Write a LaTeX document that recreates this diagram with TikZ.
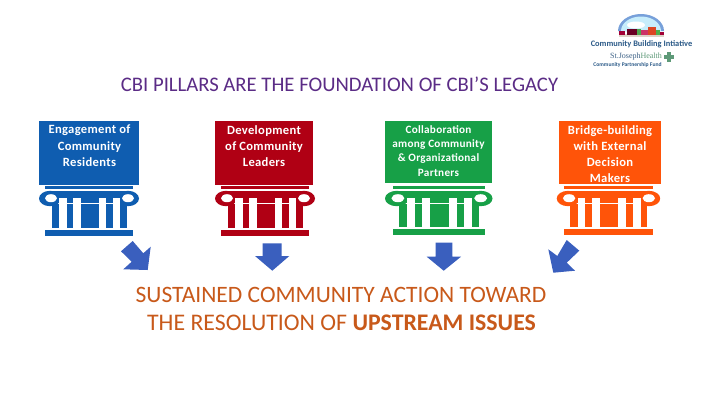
\documentclass[tikz,border=0pt]{standalone}
\usepackage{fontspec}
\setmainfont{Carlito}
\newfontfamily\spaced[LetterSpace=2.5]{Carlito}
\newfontfamily\logoserif{Liberation Serif}
\definecolor{cbiblue}{HTML}{0F5DB0}
\definecolor{cbired}{HTML}{B00014}
\definecolor{cbigreen}{HTML}{17A047}
\definecolor{cbiorange}{HTML}{FF5409}
\definecolor{cbiarrow}{HTML}{3A5FBE}
\definecolor{cbititle}{HTML}{5B2C86}
\definecolor{cbirust}{HTML}{C8591A}
\definecolor{logonavy}{HTML}{2B5A88}
\definecolor{logogreen}{HTML}{5E9A78}
\tikzset{
  pillarbox/.style={fill=#1,draw=none,inner sep=0pt,anchor=north west},
  pillartext/.style={text=white,font=\spaced\bfseries\fontsize{12.6}{16.2}\selectfont,align=center,anchor=north,inner sep=0pt},
  pillartextsmall/.style={text=white,font=\spaced\bfseries\fontsize{11.2}{14.4}\selectfont,align=center,anchor=north,inner sep=0pt},
  blockarrow/.style={fill=cbiarrow,draw=none},
  headline/.style={text=cbititle,font=\fontsize{20.7}{24}\selectfont,inner sep=0pt},
  closing/.style={text=cbirust,font=\fontsize{23.5}{28}\selectfont,inner sep=0pt},
  closingb/.style={text=cbirust,font=\fontsize{23.8}{28}\selectfont,inner sep=0pt},
}
% #1 colour, #2 left x, #3 width (capital), #4 y of base top, #5 inset of bars
\newcommand{\pillarbody}[5]{%
  \begin{scope}[shift={(#2,0)},xscale=#3/100]
    \fill[#1] (#5,186) rectangle (100-#5,189.3);
    \fill[#1] (#5,#4) rectangle (100-#5,#4+6);
    % capital with scrolls
    \fill[#1] (11,198.5) ellipse[x radius=11,y radius=7.7];
    \fill[#1] (89,198.5) ellipse[x radius=11,y radius=7.7];
    \fill[#1] (11,190.8) rectangle (89,203);
    \fill[#1] (13.3,204) rectangle (87.7,#4-2);
    \fill[white] (12,198.2) ellipse[x radius=6,y radius=4];
    \fill[white] (89,198.2) ellipse[x radius=6,y radius=4];
    \foreach \gx in {20.3,34.3,59.7,73.7}
      \fill[white] (\gx,198) rectangle (\gx+7.4,#4-2);
  \end{scope}%
}
\begin{document}
\begin{tikzpicture}[x=1pt,y=-1pt]
\useasboundingbox (0,0) rectangle (720,405);
\fill[white] (0,0) rectangle (720,405);

% logo
\fill[cyan!50!blue!55] (618,31) arc[start angle=180,end angle=360,x radius=23,y radius=17] -- cycle;
\fill[cyan!22] (621,31) arc[start angle=180,end angle=360,x radius=20,y radius=14.5] -- cycle;
\fill[white] (636,25) ellipse[x radius=9,y radius=3.5];
\fill[orange!25!gray!35] (619,34) rectangle (664,36.5);
\fill[purple!85!black] (619,31) rectangle (625,35);
\fill[purple!55!black] (627,28.5) rectangle (637,35);
\fill[green!50!black!70] (637,29) rectangle (641,35);
\fill[purple!80] (641,30) rectangle (648,35);
\fill[red!45!brown] (648,26.5) rectangle (656,35);
\fill[green!55!black!70] (656,29.5) rectangle (660,35);
\fill[purple!85!black] (660,32) rectangle (664,35);
\node[inner sep=0pt,text=logonavy,font=\bfseries\fontsize{8.4}{9}\selectfont] (logoname) at (641.5,44.5) {Community Building Intiative};
\node[inner sep=0pt,text=logonavy!80!gray,font=\logoserif\fontsize{8}{9}\selectfont] (logohealth) at (636,57) {St.Joseph\textcolor{logogreen}{Health}};
\node[inner sep=0pt,text=logonavy,font=\bfseries\fontsize{5.6}{6}\selectfont] (logofund) at (627.5,65) {Community Partnership Fund};
\fill[logogreen] (667,52) rectangle (671,62);
\fill[logogreen] (664,55) rectangle (674,59);

% title
\node[headline] (title) at (339.5,84.5) {CBI PILLARS ARE THE FOUNDATION OF CBI’S LEGACY};

% pillars
\node[pillarbox=cbiblue,minimum width=100.3pt,minimum height=63.6pt] (box1) at (38.7,120.7) {};
\pillarbody{cbiblue}{39}{100}{230}{6}
\node[pillartext] (text1) at (89.5,125) {Engagement of\\Community\\Residents};

\node[pillarbox=cbired,minimum width=98pt,minimum height=63.6pt] (box2) at (214.7,120.7) {};
\pillarbody{cbired}{215}{100}{230}{6}
\node[pillartext] (text2) at (264,125) {Development\\of Community\\Leaders};

\node[pillarbox=cbigreen,minimum width=107pt,minimum height=62pt] (box3) at (385,120.7) {};
\pillarbody{cbigreen}{385}{107.5}{228.7}{7}
\node[pillartextsmall] (text3) at (438.5,125) {Collaboration\\among Community\\\& Organizational\\Partners};

\node[pillarbox=cbiorange,minimum width=102pt,minimum height=63pt] (box4) at (559,120.7) {};
\pillarbody{cbiorange}{556.7}{103.5}{229.3}{7}
\node[pillartext] (text4) at (610,125) {Bridge-building\\with External\\Decision\\Makers};

% arrows
\fill[blockarrow] (132.7,241) -- (143.3,253.3) -- (150.7,246.7) -- (147.7,270) -- (123.3,269.3) -- (131.7,261.7) -- (121,251.3) -- cycle;
\fill[blockarrow] (262.7,243.3) -- (281.7,243.3) -- (281.7,256) -- (289.3,256) -- (272.3,270.7) -- (255,256) -- (262.7,256) -- cycle;
\fill[blockarrow] (435.7,242.7) -- (452.3,242.7) -- (452.3,256.7) -- (461,256.7) -- (443.7,270.7) -- (426.7,256.7) -- (435.7,256.7) -- cycle;
\fill[blockarrow] (566.7,240) -- (579.3,250.7) -- (566.7,262.7) -- (575,270.7) -- (553.3,272.7) -- (548.3,249.3) -- (557.3,256) -- cycle;

% closing statement
\node[closing] (closing1) at (341,294.5) {SUSTAINED COMMUNITY ACTION TOWARD};
\node[closingb] (closing2) at (341.5,322.5) {THE RESOLUTION OF \textbf{UPSTREAM ISSUES}};
\end{tikzpicture}
\end{document}
